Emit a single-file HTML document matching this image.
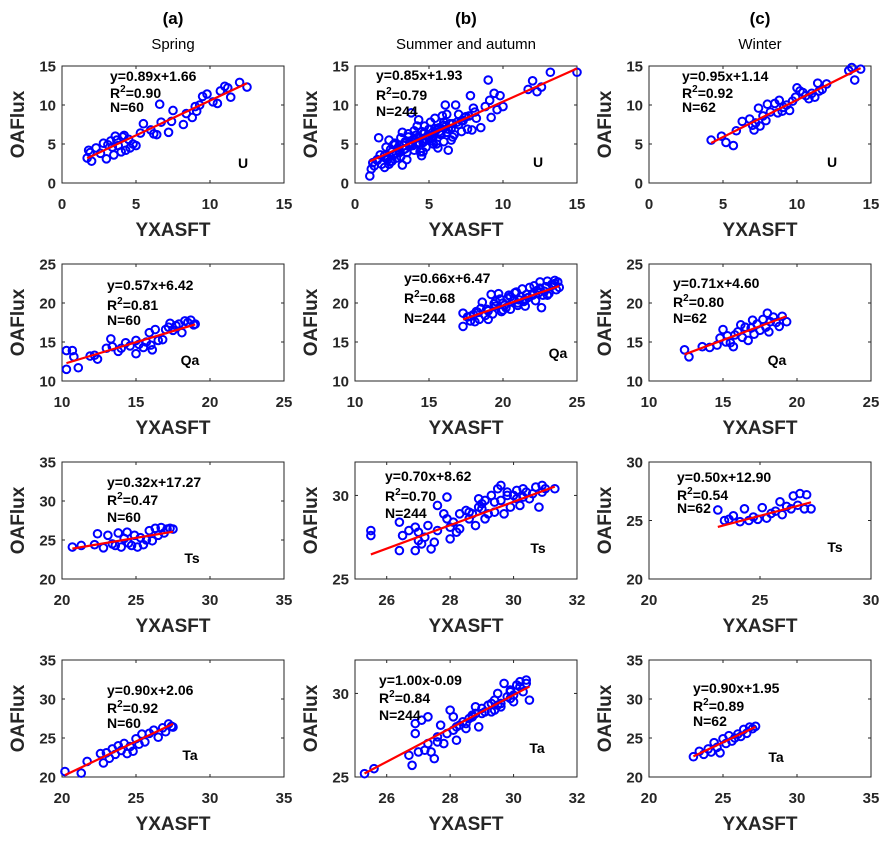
<!DOCTYPE html>
<html><head><meta charset="utf-8"><style>
body{margin:0;background:#fff}
svg{display:block;font-family:"Liberation Sans",Arial,sans-serif}
</style></head><body>
<svg id="fig" width="891" height="845" viewBox="0 0 891 845"></svg>
<script>
// ---- data (per panel) ----
const colTitles=["(a)","(b)","(c)"];
const seasons=["Spring","Summer and autumn","Winter"];
const varNames=["U","Qa","Ts","Ta"];
const slopes=[[0.89,0.85,0.95],[0.57,0.66,0.71],[0.32,0.70,0.50],[0.90,1.00,0.90]];
const intercepts=[[1.66,1.93,1.14],[6.42,6.47,4.60],[17.27,8.62,12.90],[2.06,-0.09,1.95]];
const eqTexts=[["y=0.89x+1.66","y=0.85x+1.93","y=0.95x+1.14"],["y=0.57x+6.42","y=0.66x+6.47","y=0.71x+4.60"],["y=0.32x+17.27","y=0.70x+8.62","y=0.50x+12.90"],["y=0.90x+2.06","y=1.00x-0.09","y=0.90x+1.95"]];
const r2Texts=[["0.90","0.79","0.92"],["0.81","0.68","0.80"],["0.47","0.70","0.54"],["0.92","0.84","0.89"]];
const nTexts=[["60","244","62"],["60","244","62"],["60","244","62"],["60","244","62"]];
const xRanges=[[[0,15],[0,15],[0,15]],[[10,25],[10,25],[10,25]],[[20,35],[25,32],[20,30]],[[20,35],[25,32],[20,35]]];
const yRanges=[[[0,15],[0,15],[0,15]],[[10,25],[10,25],[10,25]],[[20,35],[25,32],[20,30]],[[20,35],[25,32],[20,35]]];
const xTicks=[[[0,5,10,15],[0,5,10,15],[0,5,10,15]],[[10,15,20,25],[10,15,20,25],[10,15,20,25]],[[20,25,30,35],[26,28,30,32],[20,25,30]],[[20,25,30,35],[26,28,30,32],[20,25,30,35]]];
const yTicks=[[[0,5,10,15],[0,5,10,15],[0,5,10,15]],[[10,15,20,25],[10,15,20,25],[10,15,20,25]],[[20,25,30,35],[25,30],[20,25,30]],[[20,25,30,35],[25,30],[20,25,30,35]]];

const xA1=[1.7,1.8,1.9,2.0,2.3,2.6,2.8,3.0,3.1,3.3,3.4,3.5,3.6,3.7,3.8,4.0,4.1,4.2,4.3,4.5,4.6,4.8,5.0,5.3,5.5,6.0,6.2,6.4,6.6,6.7,7.2,7.4,7.5,8.2,8.4,8.8,9.0,9.1,9.3,9.5,9.8,10.2,10.5,10.7,11.0,11.2,11.4,12.0,12.5];
const yA1=[3.2,4.2,3.9,2.8,4.5,3.8,5.1,3.1,4.9,5.4,4.6,3.6,6.0,5.5,4.8,4.0,5.9,6.1,4.2,5.6,4.5,5.0,4.8,6.4,7.6,6.8,6.3,6.2,10.1,7.8,6.5,7.9,9.3,7.5,8.9,8.4,9.8,9.2,10.0,11.1,11.4,10.4,10.2,11.8,12.4,12.2,11.0,12.9,12.3];
const xA2=[1.0,1.1,1.3,1.5,1.6,1.8,2.0,2.1,2.2,2.3,2.4,2.5,2.6,2.7,2.8,2.9,3.0,3.1,3.2,3.3,3.4,3.5,3.6,3.7,3.8,3.9,4.0,4.1,4.2,4.3,4.4,4.5,4.6,4.7,4.8,4.9,5.0,5.1,5.2,5.3,5.4,5.5,5.6,5.7,5.8,5.9,6.0,6.1,6.2,6.3,6.5,6.6,6.8,7.0,7.2,7.4,7.6,7.8,8.0,8.2,8.5,8.8,9.0,9.2,9.4,9.6,9.8,10.0,11.7,12.0,12.3,12.6,13.2,15.0,2.0,2.5,3.0,3.5,4.0,4.5,5.0,5.5,6.0,6.5,3.2,4.2,5.2,6.2,7.2,7.9,9.1,1.5,2.2,2.8,3.3,3.8,4.3,4.8,5.3,5.8,6.3,2.6,3.6,4.6,5.6,6.6,7.5,1.2,1.7,2.1,2.4,2.7,3.0,3.4,3.7,4.0,4.4,4.7,5.0,5.4,5.7,6.1,6.4,6.9,7.3,7.7,8.1,2.3,3.1,3.9,4.6,5.2,6.0,6.7,7.0];
const yA2=[0.9,1.8,2.2,3.0,5.8,2.4,2.0,4.6,3.0,5.5,2.7,4.0,3.6,5.1,3.2,4.5,4.1,5.8,2.3,4.8,5.3,3.9,6.3,4.7,9.0,5.5,4.2,6.1,5.0,8.1,4.0,6.6,5.2,7.3,4.6,6.0,5.6,7.8,6.4,5.0,8.3,6.8,4.5,7.1,6.2,8.6,7.4,10.0,6.5,4.2,7.0,5.9,10.0,7.5,6.6,8.4,6.9,11.2,9.6,8.3,7.1,9.8,13.2,8.4,11.5,9.4,11.2,9.8,12.0,13.1,11.7,12.3,14.2,14.2,3.5,2.8,4.8,3.0,6.7,3.5,6.9,5.0,7.8,5.5,6.5,7.3,5.8,8.8,8.0,6.8,10.6,2.9,3.3,3.8,4.3,5.0,5.2,5.6,6.0,6.4,6.9,4.9,5.9,6.3,7.0,7.6,8.5,2.6,3.6,3.2,4.3,4.9,3.9,4.4,5.2,5.6,5.8,6.4,6.1,7.0,6.6,7.2,7.6,7.8,8.0,8.6,9.1,2.4,3.4,4.8,4.0,5.4,5.3,6.2,8.8];
const xA3=[4.2,4.9,5.2,5.7,5.9,6.3,6.8,7.0,7.1,7.2,7.4,7.5,7.7,7.9,8.0,8.2,8.5,8.7,8.8,9.0,9.1,9.3,9.5,9.7,9.9,10.0,10.2,10.4,10.6,10.8,11.0,11.2,11.4,11.5,11.7,12.0,13.5,13.7,13.9,14.3];
const yA3=[5.5,6.0,5.2,4.8,6.7,7.9,8.2,7.4,6.8,7.7,9.6,7.3,8.6,8.0,10.1,9.1,10.2,9.0,10.6,9.2,9.7,10.0,9.3,10.5,11.0,12.2,11.8,11.6,11.2,10.8,11.5,11.0,12.8,11.8,12.0,12.7,14.4,14.8,13.2,14.6];
const xB1=[10.3,10.3,10.7,10.8,11.1,11.9,12.2,12.4,13.0,13.3,13.4,13.8,14.0,14.3,14.6,15.0,15.0,15.2,15.5,15.7,15.9,16.0,16.1,16.3,16.5,16.8,17.0,17.2,17.3,17.5,17.7,17.9,18.1,18.3,18.5,18.7,18.9,19.0];
const yB1=[11.5,13.9,13.9,13.1,11.7,13.2,13.3,12.8,14.2,15.4,14.4,13.8,14.2,14.9,14.5,13.5,15.2,14.7,14.3,15.0,16.2,14.6,14.0,16.6,15.2,15.3,16.6,16.9,17.4,16.5,17.1,17.3,16.2,17.7,17.5,17.8,17.2,17.3];
const xB2=[17.3,17.3,17.6,17.8,18.0,18.2,18.4,18.6,18.8,19.0,19.2,19.3,19.5,19.7,19.9,20.0,20.2,20.4,20.5,20.7,20.9,21.0,21.2,21.3,21.5,21.7,21.8,22.0,22.2,22.3,22.5,22.6,22.8,23.0,23.1,23.3,23.5,23.6,23.8,18.5,19.5,20.5,21.5,22.5,23.5,19.0,20.0,21.0,22.0,23.0,17.8,18.3,18.9,19.4,19.8,20.3,20.8,21.1,21.6,22.1,22.4,22.9,23.4,23.7,20.1,21.4,22.7,18.1];
const yB2=[18.7,17.0,18.2,17.7,18.5,18.9,17.9,20.1,18.4,19.0,21.1,18.6,19.6,21.2,18.9,20.0,19.4,21.0,19.2,20.3,21.4,19.7,20.8,21.8,19.6,20.7,22.0,21.0,20.3,21.6,22.7,19.4,21.5,22.8,21.2,22.4,22.9,21.7,22.0,19.3,20.2,20.8,20.4,21.9,22.5,17.9,19.1,20.0,21.2,21.0,18.3,18.8,19.2,19.9,20.5,20.6,21.3,20.4,21.1,22.2,21.3,22.1,22.3,22.7,19.7,20.2,21.0,17.6];
const xB3=[12.4,12.7,13.6,14.1,14.6,14.8,15.0,15.2,15.3,15.5,15.7,15.8,16.0,16.2,16.3,16.5,16.7,16.9,17.0,17.1,17.3,17.5,17.7,17.9,18.0,18.1,18.2,18.4,18.6,18.8,19.0,19.3];
const yB3=[14.0,13.1,14.4,14.3,14.6,15.5,16.6,15.0,15.8,14.9,14.4,15.9,16.3,17.2,15.6,16.9,15.2,16.8,17.8,16.0,17.3,16.5,17.9,16.9,18.7,16.3,17.6,18.2,17.5,17.0,18.3,17.6];
const xC1=[20.7,21.3,22.2,22.4,22.8,23.1,23.4,23.6,23.8,24.0,24.2,24.4,24.5,24.7,24.9,25.1,25.3,25.5,25.7,25.9,26.1,26.3,26.5,26.7,26.9,27.1,27.3,27.5];
const yC1=[24.1,24.3,24.4,25.8,24.0,25.6,24.5,24.3,25.9,24.1,25.2,26.0,24.6,24.3,25.6,24.1,25.3,24.4,25.0,26.2,24.9,26.5,25.6,26.6,25.9,26.4,26.5,26.4];
const xC2=[25.5,25.5,26.4,26.4,26.5,26.7,26.9,27.0,27.2,27.3,27.4,27.6,27.8,27.9,28.0,28.1,28.3,28.5,28.6,28.8,28.9,29.0,29.2,29.3,29.4,29.5,29.6,29.8,29.9,30.0,30.1,30.2,30.4,30.5,30.7,30.9,31.0,31.3,27.5,28.2,28.7,29.1,29.7,30.3,30.8,26.9,27.1,27.6,27.9,28.3,28.6,28.9,29.1,29.4,29.6,29.8,30.1,30.3,30.6,30.9,28.0,29.0,27.0];
const yC2=[27.9,27.6,28.4,26.7,27.6,27.9,26.7,27.3,27.5,28.2,26.8,29.4,28.9,29.9,27.4,28.4,28.0,29.1,28.6,28.2,29.8,29.5,28.9,30.0,29.0,30.4,29.7,30.2,29.3,30.0,30.3,29.4,30.2,29.8,30.5,30.2,30.4,30.4,27.2,27.8,28.9,28.6,28.9,29.9,29.3,28.1,27.1,27.9,28.6,28.9,29.0,29.3,29.7,29.6,30.6,30.0,29.8,30.4,30.1,30.6,28.1,29.2,27.8];
const xC3=[23.1,23.4,23.6,23.8,24.1,24.3,24.5,24.7,24.9,25.1,25.3,25.5,25.7,25.9,26.0,26.2,26.4,26.5,26.7,26.8,27.0,27.1,27.3];
const yC3=[25.9,25.0,25.1,25.4,24.9,26.0,25.0,25.3,25.1,26.1,25.2,25.6,25.8,26.6,25.5,26.2,26.0,27.1,26.3,27.3,26.0,27.2,26.0];
const xD1=[20.2,21.3,21.7,22.6,22.8,23.0,23.2,23.4,23.6,23.8,24.0,24.2,24.4,24.6,24.8,25.0,25.2,25.4,25.6,25.9,26.2,26.5,26.8,27.0,27.2,27.4,27.5];
const yD1=[20.7,20.5,22.0,23.0,21.8,23.1,22.4,23.6,22.9,24.0,23.4,24.3,23.0,23.9,23.3,24.9,24.2,25.5,24.5,25.6,26.0,25.1,26.3,25.8,26.8,26.5,26.4];
const xD2=[25.3,25.6,26.7,26.8,26.9,26.9,27.0,27.1,27.2,27.3,27.4,27.5,27.6,27.7,27.8,28.0,28.1,28.2,28.4,28.5,28.7,28.8,28.9,29.0,29.2,29.3,29.4,29.5,29.6,29.7,29.8,29.9,30.0,30.1,30.2,30.3,30.4,30.5,28.3,28.6,29.1,29.5,29.9,27.6,27.9,28.2,28.5,28.8,29.0,29.3,29.6,29.9,30.2,30.4,28.1,28.7,29.4,30.0,27.3];
const yD2=[25.2,25.5,26.3,25.7,27.6,28.2,26.5,28.4,26.6,28.6,26.5,26.1,27.4,28.1,27.0,29.0,27.8,27.2,28.3,27.9,28.6,29.2,28.0,28.8,29.3,28.9,29.6,30.0,29.2,30.6,29.8,30.2,29.5,30.5,30.7,30.1,30.6,29.6,28.1,28.5,28.9,29.3,29.7,27.1,27.6,28.0,28.2,28.8,29.1,29.4,29.4,30.1,30.4,30.8,28.6,28.7,29.0,29.9,27.0];
const xD3=[23.0,23.4,23.7,24.0,24.2,24.4,24.6,24.8,25.0,25.2,25.4,25.6,25.8,26.0,26.2,26.4,26.6,26.8,27.0,27.2];
const yD3=[22.6,23.3,22.9,23.6,23.2,24.4,23.8,23.1,24.9,24.3,25.3,24.6,25.0,25.5,25.2,26.1,25.6,26.4,26.2,26.5];
const xsAll=[[xA1,xA2,xA3],[xB1,xB2,xB3],[xC1,xC2,xC3],[xD1,xD2,xD3]];
const ysAll=[[yA1,yA2,yA3],[yB1,yB2,yB3],[yC1,yC2,yC3],[yD1,yD2,yD3]];

// ---- layout ----
const colLeft=[62,355,649], rowTop=[66,264,462,660], W=222, H=117;
const eqPos=[[[48,10,17,31],[21,9,20,36],[33,10,17,31]],[[45,21,20,35],[49,14,20,40],[24,19,19,35]],[[45,20,18,35],[30,14,20,37],[28,15,18,31]],[[45,30,18,33],[24,20,18,35],[44,28,18,33]]];
const labPos=[[[181,97],[183,96],[183,96]],[[128,96],[203,89],[128,96]],[[130,96],[183,86],[186,85]],[[128,95],[182,88],[127,97]]];
const svg=document.getElementById('fig');
const NS='http://www.w3.org/2000/svg';
function mk(tag,attrs,parent,text){const e=document.createElementNS(NS,tag);for(const k in attrs)e.setAttribute(k,attrs[k]);if(text!==undefined)e.textContent=text;(parent||svg).appendChild(e);return e;}

for(let c=0;c<3;c++){
  const cx=colLeft[c]+W/2;
  const t1=mk('text',{x:cx,y:24,'text-anchor':'middle','font-size':17,'font-weight':'bold',fill:'#000'},svg,colTitles[c]);
  
  
  const t2=mk('text',{x:cx,y:49,'text-anchor':'middle','font-size':15,fill:'#000'},svg,seasons[c]);
  
  
}

for(let r=0;r<4;r++)for(let c=0;c<3;c++){
  const L=colLeft[c],T=rowTop[r],xr=xRanges[r][c],yr=yRanges[r][c];
  const sx=v=>L+(v-xr[0])/(xr[1]-xr[0])*W;
  const sy=v=>T+H-(v-yr[0])/(yr[1]-yr[0])*H;
  const g=mk('g',{});
  
  
  mk('rect',{x:L,y:T,width:W,height:H,fill:'#fff',stroke:'#262626','stroke-width':1},g);
  xTicks[r][c].forEach(v=>{const x=sx(v);
    mk('line',{x1:x,x2:x,y1:T+H,y2:T+H-3,stroke:'#262626'},g);mk('line',{x1:x,x2:x,y1:T,y2:T+3,stroke:'#262626'},g);
    const t=mk('text',{x:x,y:T+H+26,'text-anchor':'middle','font-size':15,'font-weight':'bold',fill:'#262626'},g,String(v));
    
    });
  yTicks[r][c].forEach(v=>{const y=sy(v);
    mk('line',{x1:L,x2:L+3,y1:y,y2:y,stroke:'#262626'},g);mk('line',{x1:L+W,x2:L+W-3,y1:y,y2:y,stroke:'#262626'},g);
    const t=mk('text',{x:L-6,y:y+5.5,'text-anchor':'end','font-size':15,'font-weight':'bold',fill:'#262626'},g,String(v));
    
    });
  const xt=mk('text',{x:L+W/2,y:T+H+53,'text-anchor':'middle','font-size':19,'font-weight':'bold',fill:'#262626'},g,'YXASFT');
  
  
  const yx=L-38,yy=T+H/2;
  const yt=mk('text',{x:yx,y:yy,'text-anchor':'middle','font-size':19,'font-weight':'bold',fill:'#262626',transform:`rotate(-90 ${yx} ${yy})`},g,'OAFlux');
  
  
  const xs=xsAll[r][c],ys=ysAll[r][c],n=Math.min(xs.length,ys.length);
  for(let i=0;i<n;i++){
    const p=mk('circle',{cx:sx(xs[i]),cy:sy(ys[i]),r:3.8,fill:'none',stroke:'#0000ff','stroke-width':2},g);
    
    
  }
  const xmin=Math.min(...xs),xmax=Math.max(...xs),m=slopes[r][c],b=intercepts[r][c];
  const ln=mk('line',{x1:sx(xmin),y1:sy(m*xmin+b),x2:sx(xmax),y2:sy(m*xmax+b),stroke:'#ff0000','stroke-width':2.2},g);
  
  
  const ep=eqPos[r][c],ex=L+ep[0],ey=T+ep[1]+5;
  const e1=mk('text',{x:ex,y:ey,'font-size':14,'font-weight':'bold',fill:'#000'},g,eqTexts[r][c]);
  
  
  const e2=mk('text',{x:ex,y:ey+ep[2],'font-size':14,'font-weight':'bold',fill:'#000'},g);
  
  
  mk('tspan',{},e2,'R');mk('tspan',{dy:-6,'font-size':10},e2,'2');mk('tspan',{dy:6},e2,'='+r2Texts[r][c]);
  const e3=mk('text',{x:ex,y:ey+ep[3],'font-size':14,'font-weight':'bold',fill:'#000'},g,'N='+nTexts[r][c]);
  
  
  const lp=labPos[r][c];
  const vl=mk('text',{x:L+lp[0],y:T+lp[1]+5,'text-anchor':'middle','font-size':14,'font-weight':'bold',fill:'#000'},g,varNames[r]);
  
  
}
</script>
</body></html>
